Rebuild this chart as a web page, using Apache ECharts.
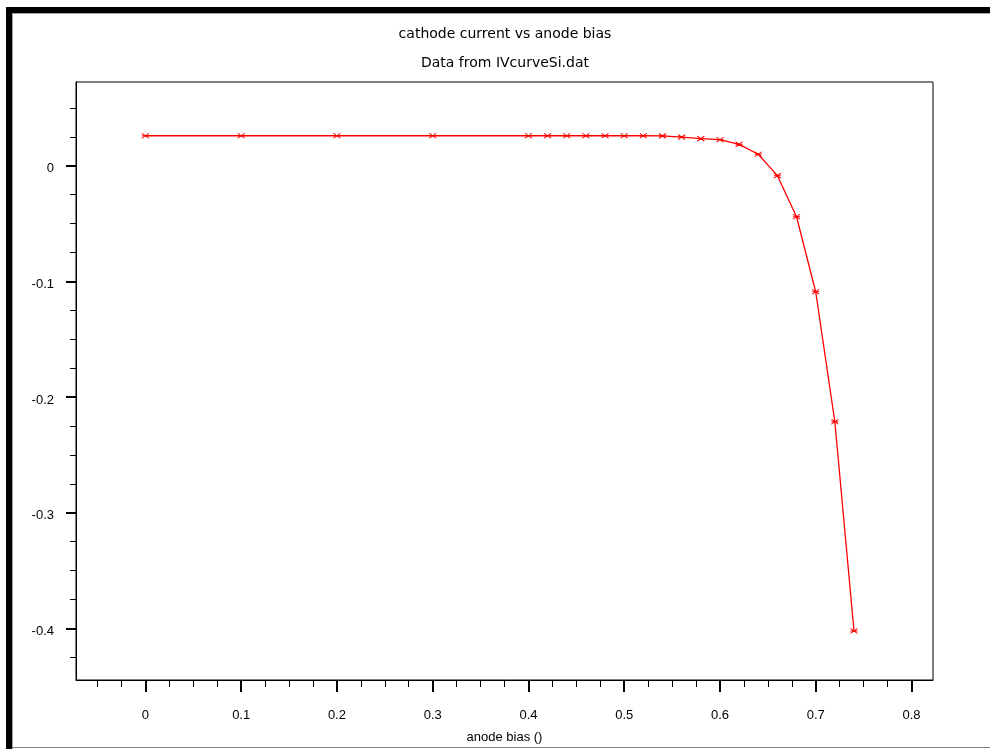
<!DOCTYPE html>
<html>
<head>
<meta charset="utf-8">
<script src="https://cdn.jsdelivr.net/npm/echarts@6/dist/echarts.min.js"></script>
<style>html,body{margin:0;padding:0;background:#fff}#c{width:990px;height:749px}</style>
</head>
<body>
<div id="c"></div>
<script>
// Data
const anodeBias = [0, 0.1, 0.2, 0.3, 0.4, 0.42, 0.44, 0.46, 0.48, 0.5, 0.52, 0.54, 0.56, 0.58, 0.6, 0.62, 0.64, 0.66, 0.68, 0.7, 0.72, 0.74];
const cathodeCurrent = [0.0259, 0.0259, 0.0259, 0.0259, 0.0259, 0.0259, 0.0259, 0.0259, 0.0259, 0.0259, 0.0259, 0.0258, 0.0247, 0.0234, 0.0225, 0.0185, 0.0099, -0.0086, -0.0441, -0.109, -0.2214, -0.4023];
const xMajorTicks = [0, 0.1, 0.2, 0.3, 0.4, 0.5, 0.6, 0.7, 0.8];
const xMinorTicks = [-0.05, -0.025, 0.025, 0.05, 0.075, 0.125, 0.15, 0.175, 0.225, 0.25, 0.275, 0.325, 0.35, 0.375, 0.425, 0.45, 0.475, 0.525, 0.55, 0.575, 0.625, 0.65, 0.675, 0.725, 0.75, 0.775];
const yMajorTicks = [0, -0.1, -0.2, -0.3, -0.4];
const yMinorTicks = [0.05, 0.025, -0.025, -0.05, -0.075, -0.125, -0.15, -0.175, -0.225, -0.25, -0.275, -0.325, -0.35, -0.375, -0.425];
const titleText = 'cathode current vs anode bias';
const subtitleText = 'Data from IVcurveSi.dat';
const xName = 'anode bias ()';

const X_MIN = -0.0725, X_MAX = 0.8225, Y_MIN = -0.4447, Y_MAX = 0.0724;
const FONT = 'Liberation Sans, Arial, sans-serif';
const TFONT = '"DejaVu Sans", sans-serif';
const fmt = v => String(+(+v).toFixed(3));

const chart = echarts.init(document.getElementById('c'), null, {renderer: 'canvas'});
const option = {
  backgroundColor: '#ffffff',
  animation: false,
  grid: {left: 76, top: 82, width: 857, height: 598, containLabel: false, outerBoundsMode: 'none',
         show: true, borderColor: '#000', borderWidth: 1, backgroundColor: 'transparent'},
  xAxis: [
    {type: 'value', min: X_MIN, max: X_MAX, position: 'bottom',
     name: xName, nameLocation: 'middle', nameGap: 51,
     nameTextStyle: {fontFamily: FONT, fontSize: 13, color: '#000'},
     axisLine: {show: true, onZero: false, lineStyle: {color: '#000', width: 1}},
     axisTick: {show: true, customValues: xMajorTicks, length: 12, lineStyle: {color: '#000', width: 2}},
     axisLabel: {show: true, customValues: xMajorTicks, formatter: fmt, margin: 29, fontFamily: FONT, fontSize: 13, color: '#000'},
     splitLine: {show: false}},
    {type: 'value', min: X_MIN, max: X_MAX, position: 'bottom',
     axisLine: {show: false, onZero: false},
     axisTick: {show: true, customValues: xMinorTicks, length: 7, lineStyle: {color: '#000', width: 1}},
     axisLabel: {show: false},
     splitLine: {show: false}}
  ],
  yAxis: [
    {type: 'value', min: Y_MIN, max: Y_MAX, position: 'left',
     axisLine: {show: true, onZero: false, lineStyle: {color: '#000', width: 1}},
     axisTick: {show: true, customValues: yMajorTicks, length: 10, lineStyle: {color: '#000', width: 2}},
     axisLabel: {show: true, customValues: yMajorTicks, formatter: v => '{v|' + fmt(v) + '}', margin: 22,
                 rich: {v: {fontFamily: FONT, fontSize: 13, color: '#000', padding: [6, 0, 0, 0]}}},
     splitLine: {show: false}},
    {type: 'value', min: Y_MIN, max: Y_MAX, position: 'left',
     axisLine: {show: false, onZero: false},
     axisTick: {show: true, customValues: yMinorTicks, length: 6, lineStyle: {color: '#000', width: 1}},
     axisLabel: {show: false},
     splitLine: {show: false}}
  ],
  series: [{
    type: 'line',
    xAxisIndex: 0, yAxisIndex: 0,
    data: anodeBias.map((x, i) => [x, cathodeCurrent[i]]),
    lineStyle: {color: '#ff0000', width: 1.3},
    symbol: 'path://M0,0L8,6M8,0L0,6M0,3L8,3',
    symbolSize: [7, 5],
    showSymbol: true,
    itemStyle: {color: 'rgba(255,0,0,0.15)', borderColor: '#ff0000', borderWidth: 1},
    emphasis: {disabled: true}
  }],
  graphic: [
    {type: 'rect', shape: {x: 6, y: 7, width: 984, height: 6}, style: {fill: '#000'}, silent: true},
    {type: 'rect', shape: {x: 6, y: 7, width: 6, height: 742}, style: {fill: '#000'}, silent: true},
    {type: 'line', shape: {x1: 12, y1: 13.5, x2: 990, y2: 13.5}, style: {stroke: '#a0a0a0', lineWidth: 1}, silent: true},
    {type: 'line', shape: {x1: 12.5, y1: 13, x2: 12.5, y2: 749}, style: {stroke: '#a0a0a0', lineWidth: 1}, silent: true},
    {type: 'line', shape: {x1: 12, y1: 747.5, x2: 990, y2: 747.5}, style: {stroke: '#808080', lineWidth: 1}, silent: true},
    {type: 'text', x: 505, y: 34, style: {text: titleText, font: '14px ' + TFONT, fill: '#000', textAlign: 'center', textVerticalAlign: 'middle'}, silent: true},
    {type: 'text', x: 505, y: 63, style: {text: subtitleText, font: '14px ' + TFONT, fill: '#000', textAlign: 'center', textVerticalAlign: 'middle'}, silent: true}
  ]
};
chart.setOption(option);
</script>
</body>
</html>
